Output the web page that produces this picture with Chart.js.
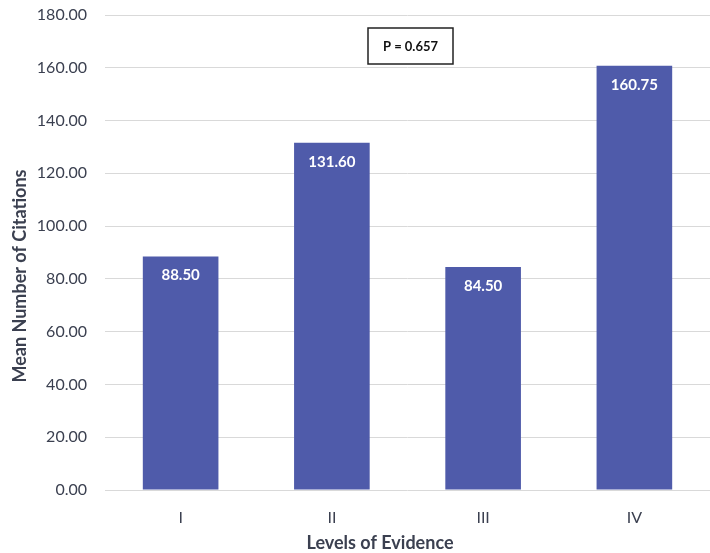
<!DOCTYPE html>
<html>
<head>
<meta charset="utf-8">
<script src="https://cdn.jsdelivr.net/npm/chart.js@4"></script>
<style>
  html, body { margin: 0; padding: 0; background: #fff; }
  #wrap { width: 710px; height: 553px; }
</style>
</head>
<body>
<div id="wrap"><canvas id="chart" width="710" height="553"></canvas></div>
<script>
const levels = ['I', 'II', 'III', 'IV'];
const meanCitations = [88.50, 131.60, 84.50, 160.75];
const yTicks = [0, 20, 40, 60, 80, 100, 120, 140, 160, 180];
const pValueText = 'P = 0.657';
const yTitle = 'Mean Number of Citations';
const xTitle = 'Levels of Evidence';

const FONT = 'Lato, "Open Sans", sans-serif';
const barColor = 'rgb(79, 91, 170)';
const textColor = '#3b4050';

// white value labels just inside the top of each bar
const valueLabels = {
    id: 'valueLabels',
    afterDatasetsDraw(chart) {
        const ctx = chart.ctx;
        const meta = chart.getDatasetMeta(0);
        ctx.save();
        ctx.fillStyle = '#fff';
        ctx.font = 'bold 15px ' + FONT;
        ctx.textAlign = 'center';
        ctx.textBaseline = 'middle';
        meta.data.forEach((bar, i) => {
            ctx.fillText(meanCitations[i].toFixed(2), bar.x, bar.y + 19);
        });
        ctx.restore();
    }
};

// axis titles and the p-value box
const annotations = {
    id: 'annotations',
    afterDraw(chart) {
        const ctx = chart.ctx;
        ctx.save();
        ctx.fillStyle = textColor;
        ctx.font = 'bold 18px ' + FONT;
        ctx.textAlign = 'center';
        ctx.textBaseline = 'middle';
        ctx.fillText(xTitle, 380, 543);

        ctx.translate(20, 276);
        ctx.rotate(-Math.PI / 2);
        ctx.fillText(yTitle, 0, 0);
        ctx.restore();

        ctx.save();
        ctx.strokeStyle = '#222';
        ctx.lineWidth = 1.5;
        ctx.fillStyle = '#fff';
        ctx.fillRect(368, 28, 85, 36);
        ctx.strokeRect(368, 28, 85, 36);
        ctx.fillStyle = '#111';
        ctx.font = 'bold 13px ' + FONT;
        ctx.textAlign = 'center';
        ctx.textBaseline = 'middle';
        ctx.fillText(pValueText, 410.5, 46.5);
        ctx.restore();
    }
};

new Chart(document.getElementById('chart').getContext('2d'), {
    type: 'bar',
    data: {
        labels: levels,
        datasets: [{
            data: meanCitations,
            backgroundColor: barColor,
            borderWidth: 0,
            categoryPercentage: 1,
            barPercentage: 0.5
        }]
    },
    options: {
        responsive: false,
        animation: false,
        layout: { padding: { top: 15, right: 0, bottom: 0, left: 0 } },
        plugins: {
            legend: { display: false },
            tooltip: { enabled: false }
        },
        scales: {
            x: {
                grid: { display: false, drawTicks: false },
                border: { display: false },
                ticks: { color: textColor, font: { family: FONT, size: 16 }, padding: 18 },
                afterFit(scale) { scale.height = 63; }
            },
            y: {
                min: 0,
                max: 180,
                afterBuildTicks(scale) { scale.ticks = yTicks.map(v => ({ value: v })); },
                grid: { color: '#d9d9d9', lineWidth: 1, drawTicks: false },
                border: { display: false },
                ticks: {
                    color: textColor,
                    font: { family: FONT, size: 16 },
                    padding: 18,
                    callback: v => v.toFixed(2)
                },
                afterFit(scale) {
                    scale.width = 105;
                    scale.paddingTop = 0;
                    scale.paddingBottom = 0;
                }
            }
        }
    },
    plugins: [valueLabels, annotations]
});
</script>
</body>
</html>
